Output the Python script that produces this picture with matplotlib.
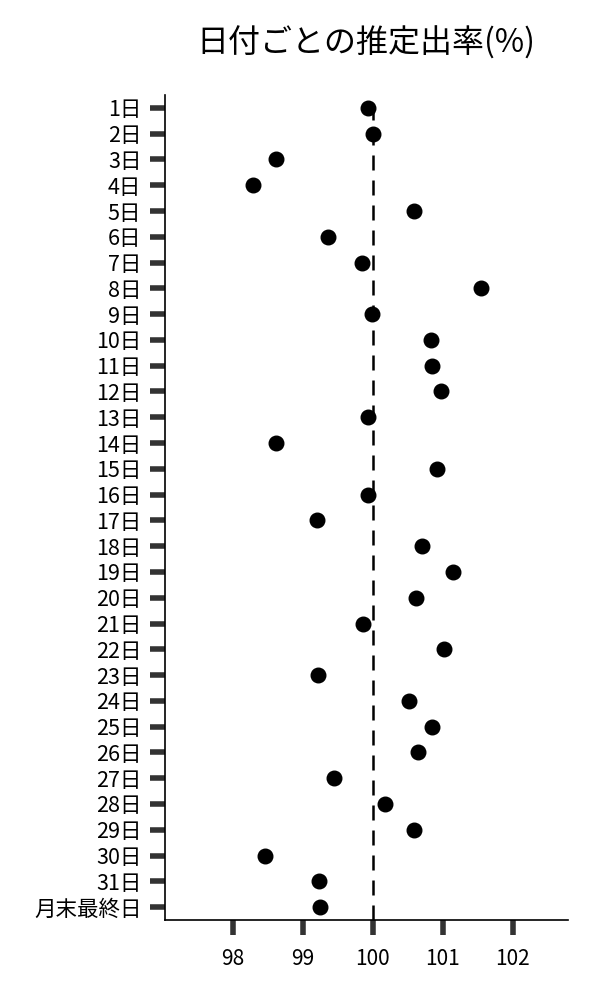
import numpy as np
import matplotlib.pyplot as plt

plt.rcParams['font.family'] = ['Noto Sans CJK JP', 'DejaVu Sans']

labels = [f"{d}日" for d in range(1, 32)] + ["月末最終日"]
rates = [99.93, 100.0, 98.61, 98.29, 100.59, 99.36, 99.84, 101.54,
         99.99, 100.83, 100.84, 100.97, 99.93, 98.61, 100.91, 99.93,
         99.20, 100.70, 101.14, 100.61, 99.86, 101.01, 99.21, 100.51,
         100.84, 100.64, 99.44, 100.17, 100.59, 98.46, 99.23, 99.24]
xticks = [98, 99, 100, 101, 102]

fig = plt.figure(figsize=(6, 10), dpi=100)
ax = fig.add_axes([0.275, 0.08, 0.672, 0.825])

y = np.arange(len(labels))
ax.axvline(100, color='black', linestyle=(0, (6, 4)), linewidth=1.8, zorder=1)
ax.scatter(rates, y, s=110, color='black', zorder=3)

ax.set_ylim(len(labels) - 0.5, -0.5)
ax.set_xlim(97.03, 102.79)
ax.set_yticks(y)
ax.set_yticklabels(labels, fontsize=15.5)
ax.set_xticks(xticks)
ax.set_xticklabels([str(t) for t in xticks], fontsize=15)

ax.tick_params(axis='both', length=11, width=4, color='#333333', pad=6)
ax.tick_params(axis='x', pad=9)
for s in ['top', 'right']:
    ax.spines[s].set_visible(False)
ax.spines['left'].set_linewidth(1.2)
ax.spines['bottom'].set_linewidth(1.2)

fig.text(0.61, 0.957, "日付ごとの推定出率(%)", fontsize=23, ha='center', va='center')

fig.savefig("out.png")
